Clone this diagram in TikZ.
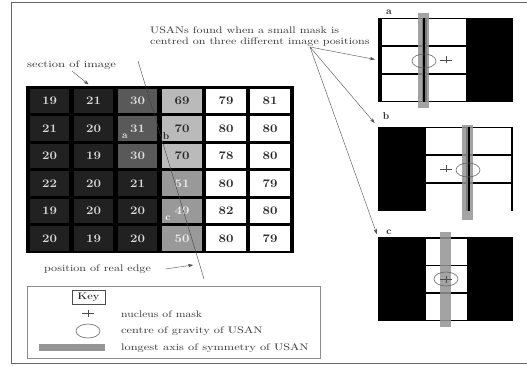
\documentclass[tikz,border=0pt]{standalone}
\usetikzlibrary{arrows.meta, positioning, shapes.geometric}
\newcommand{\wide}[2]{\scalebox{#1}[1]{#2}}

\begin{document}
\begin{tikzpicture}[
  x=1pt, y=-1pt,
  font=\fontsize{9.5}{11}\selectfont,
  lbl/.style={inner sep=0pt, anchor=west, text=black!80},
  ptr/.style={-{Stealth[length=5pt,width=3.5pt]}, black!70},
  cell/.style={rectangle, minimum width=39.5pt, minimum height=24.5pt, inner sep=0pt,
               font=\fontsize{11.5}{12}\selectfont\bfseries},
  cdark/.style={cell, fill=black!87, text=black!15},
  cmid/.style={cell, fill=black!65, text=black!12},
  clight/.style={cell, fill=black!27, text=black!85},
  cgrey/.style={cell, fill=black!40, text=black!8},
  cwhite/.style={cell, fill=white, text=black!85},
  panel/.style={rectangle, fill=black, minimum width=135pt, minimum height=84pt, inner sep=0pt},
  win/.style={rectangle, fill=white, minimum height=26pt, inner sep=0pt},
  axisbar/.style={rectangle, fill=black!42, minimum width=11pt, minimum height=95pt, inner sep=0pt},
  cog/.style={ellipse, draw=black!60, semithick, minimum width=24pt, minimum height=14pt, inner sep=0pt},
  nuc/.style={inner sep=0pt, minimum width=12pt, minimum height=7pt, path picture={
    \draw[black!70] (path picture bounding box.west) -- (path picture bounding box.east);
    \draw[black!70] (path picture bounding box.north) -- (path picture bounding box.south);}},
  tag/.style={inner sep=0pt, font=\fontsize{10}{11}\selectfont\bfseries, text=black!85}
]
  \useasboundingbox (0,0) rectangle (527,366);

  % outer frame
  \draw[black!60, thick] (527,2) -- (11,2) -- (11,363.5) -- (527,363.5);

  % image section
  \node[rectangle, fill=black, minimum width=268pt, minimum height=166pt, inner sep=0pt] (imggrid) at (160,169.5) {};
  \foreach \r/\yy/\a/\b/\c/\d/\e/\f/\sc/\sd in {
    1/101/19/21/30/69/79/81/cmid/clight,
    2/128.5/21/20/31/70/80/80/cmid/clight,
    3/156/20/19/30/70/78/80/cmid/clight,
    4/183.5/22/20/21/51/80/79/cdark/cgrey,
    5/211/19/20/20/49/82/80/cdark/cgrey,
    6/238.5/20/19/20/50/80/79/cdark/cgrey} {
    \node[cdark] (c\r-1) at (49.5,\yy) {\wide{1.15}{\a}};
    \node[cdark] (c\r-2) at (93.5,\yy) {\wide{1.15}{\b}};
    \node[\sc] (c\r-3) at (137.5,\yy) {\wide{1.15}{\c}};
    \node[\sd] (c\r-4) at (182,\yy) {\wide{1.15}{\d}};
    \node[cwhite] (c\r-5) at (226,\yy) {\wide{1.15}{\e}};
    \node[cwhite] (c\r-6) at (270,\yy) {\wide{1.15}{\f}};
  }
  \node[tag, text=black!10] (taga) at (125,136) {a};
  \node[tag] (tagb) at (166,136) {b};
  \node[tag, text=black!5] (tagc) at (168,218) {c};

  % real edge
  \coordinate (edgetop) at (138,61);
  \coordinate (edgebot) at (204,279);
  \draw[black!75] (edgetop) -- (edgebot);

  % labels
  \node[lbl] (seclbl) at (27,65) {\wide{1.33}{section of image}};
  \coordinate (sectip) at (88.5,84.5);
  \draw[ptr] (72,71) -- (sectip);
  \node[lbl] (edgelbl) at (44,269.5) {\wide{1.27}{position of real edge}};
  \coordinate (edgetip) at (193,265);
  \draw[ptr] (165.5,269) -- (edgetip);
  \node[lbl] (usanlbl) at (150,30) {\wide{1.27}{USANs found when a small mask is}};
  \node[lbl, below=4pt of usanlbl.south west, anchor=north west] (usanlbl2) {\wide{1.27}{centred on three different image positions}};

  % panel a
  \node[panel] (pa) at (445.5,60) {};
  \foreach \n/\yy in {1/32,2/60,3/88} {
    \node[win, minimum width=40pt] (pa-l\n) at (402,\yy) {};
    \node[win, minimum width=39pt] (pa-r\n) at (446.5,\yy) {};
  }
  \node[axisbar, opacity=.85] (ba) at (423.5,60.5) {};
  \draw[black, line width=2pt] (423.8,18) -- (423.8,102);
  \node[cog] (oa) at (424,61) {};
  \node[nuc] (na) at (446,60) {};
  \node[tag] (ta) at (389,12) {a};

  % panel b
  \node[panel] (pb) at (445.5,169) {};
  \foreach \n/\yy in {1/141.5,2/169.5,3/197.5} {
    \node[win, minimum width=40pt] (pb-l\n) at (446,\yy) {};
    \node[win, minimum width=41pt] (pb-r\n) at (490,\yy) {};
  }
  \node[axisbar, opacity=.85] (bb) at (467.5,172.5) {};
  \draw[black, line width=2pt] (468.5,127) -- (468.5,211);
  \node[cog] (ob) at (468,170) {};
  \node[nuc] (nb) at (446,169) {};
  \node[tag] (tb) at (386,116) {b};

  % panel c
  \node[panel] (pc) at (445.5,279) {};
  \foreach \n/\yy in {1/251.5,2/279,3/307} {
    \node[win, minimum width=41pt] (pc-w\n) at (446,\yy) {};
  }
  \node[axisbar, opacity=.85] (bc) at (445.5,279) {};
  \node[cog] (oc) at (446,279) {};
  \node[nuc] (nc) at (446,279) {};
  \node[tag] (tc) at (389,232) {c};

  % pointers from the heading
  \coordinate (usansrc) at (310,47);
  \draw[ptr, shorten >=3pt] (usansrc) -- (pa.west);
  \draw[ptr, shorten >=5pt] (usansrc) -- (pb.north west);
  \draw[ptr, shorten >=3pt] (usansrc) -- (pc.north west);

  % key
  \node[rectangle, draw=black!45, semithick, minimum width=293pt, minimum height=72pt, inner sep=0pt] (keybox) at (173.5,322) {};
  \node[rectangle, draw=black!70, semithick, minimum width=33pt, minimum height=14pt, inner sep=0pt] (keyttl) at (88.5,297) {\wide{1.3}{Key}};
  \node[nuc] (knuc) at (88,313.5) {};
  \node[cog] (kcog) at (88,331) {};
  \node[rectangle, fill=black!42, minimum width=66pt, minimum height=7pt, inner sep=0pt] (kbar) at (72,347.5) {};
  \node[lbl] (knuctxt) at (121,314) {\wide{1.23}{nucleus of mask}};
  \node[lbl] (kcogtxt) at (121,331) {\wide{1.3}{centre of gravity of USAN}};
  \node[lbl] (kbartxt) at (121,348) {\wide{1.3}{longest axis of symmetry of USAN}};
\end{tikzpicture}
\end{document}
